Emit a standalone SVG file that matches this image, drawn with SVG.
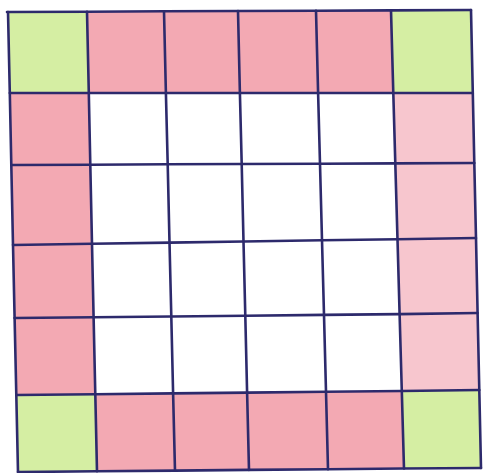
<svg xmlns="http://www.w3.org/2000/svg" width="483" height="473" viewBox="0 0 483 473">
<style>
.r{fill:#f3a9b3}
.rl{fill:#f7c6ce}
.g{fill:#d5eea3}
.ln{fill:none;stroke:#2d2a6c;stroke-width:2.6;stroke-linecap:round;stroke-linejoin:round}
</style>
<rect width="483" height="473" fill="#ffffff"/>
<g id="cells">
<polygon class="g" points="8,12 87,11.7 88.8,93 9.8,93"/>
<polygon class="r" points="87,11.7 164,11.3 165.9,93 88.8,93"/>
<polygon class="r" points="164,11.3 238,11 239.9,93 165.9,93"/>
<polygon class="r" points="238,11 316,10.7 318.1,93 239.9,93"/>
<polygon class="r" points="316,10.7 391,10.4 393.3,93 318.1,93"/>
<polygon class="g" points="391,10.4 471,10 472.8,93 393.3,93"/>
<polygon class="r" points="9.8,93 88.8,93 90.3,164.7 11.3,165"/>
<polygon class="r" points="11.3,165 90.3,164.7 92,243.7 13,245"/>
<polygon class="r" points="13,245 92,243.7 93.6,317.2 14.6,318"/>
<polygon class="r" points="14.6,318 93.6,317.2 95.3,394.2 16.3,395"/>
<polygon class="rl" points="393.3,93 472.8,93 474.3,163 395.3,163.4"/>
<polygon class="rl" points="395.3,163.4 474.3,163 476,238 397.5,239.2"/>
<polygon class="rl" points="397.5,239.2 476,238 477.6,313 399.6,314.1"/>
<polygon class="rl" points="399.6,314.1 477.6,313 479.3,390 401.8,391"/>
<polygon class="g" points="16.3,395 95.3,394.2 97,471.3 18,472"/>
<polygon class="r" points="95.3,394.2 173.1,393.4 175,470.6 97,471.3"/>
<polygon class="r" points="173.1,393.4 247.1,392.6 249,469.9 175,470.6"/>
<polygon class="r" points="247.1,392.6 326,391.8 328,469.2 249,469.9"/>
<polygon class="r" points="326,391.8 401.8,391 404,468.5 328,469.2"/>
<polygon class="g" points="401.8,391 479.3,390 481,468 404,468.5"/>
</g>
<g id="grid-lines" class="ln">
<polyline points="7,12 87,11.7 164,11.3 238,11 316,10.7 391,10.4 471,10"/>
<polyline points="9.8,93 88.8,93 165.9,93 239.9,93 318.1,93 393.3,93 472.8,93"/>
<polyline points="11.3,165 90.3,164.7 167.7,164.3 241.7,164 320,163.7 395.3,163.4 474.3,163"/>
<polyline points="13,245 92,243.7 169.5,242.6 243.5,241.5 322,240.3 397.5,239.2 476,238"/>
<polyline points="14.6,318 93.6,317.2 171.3,316.5 245.3,315.7 324,314.9 399.6,314.1 477.6,313"/>
<polyline points="16.3,395 95.3,394.2 173.1,393.4 247.1,392.6 326,391.8 401.8,391 479.3,390"/>
<polyline points="18,472 97,471.3 175,470.6 249,469.9 328,469.2 404,468.5 481,468"/>
<polyline points="8,12 9.8,93 11.3,165 13,245 14.6,318 16.3,395 18,472"/>
<polyline points="87,11.7 88.8,93 90.3,164.7 92,243.7 93.6,317.2 95.3,394.2 97,471.3"/>
<polyline points="164,11.3 165.9,93 167.7,164.3 169.5,242.6 171.3,316.5 173.1,393.4 175,470.6"/>
<polyline points="238,11 239.9,93 241.7,164 243.5,241.5 245.3,315.7 247.1,392.6 249,469.9"/>
<polyline points="316,10.7 318.1,93 320,163.7 322,240.3 324,314.9 326,391.8 328,469.2"/>
<polyline points="391,10.4 393.3,93 395.3,163.4 397.5,239.2 399.6,314.1 401.8,391 404,468.5"/>
<polyline points="471,10 472.8,93 474.3,163 476,238 477.6,313 479.3,390 481,468"/>
</g>
</svg>
